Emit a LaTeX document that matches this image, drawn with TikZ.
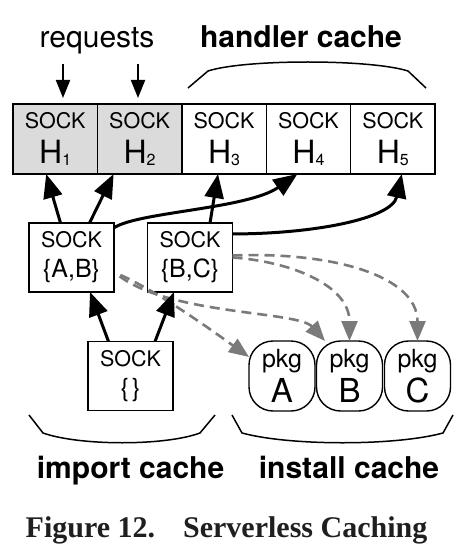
\documentclass[tikz,border=0pt]{standalone}
\usepackage{fontspec}
\setmainfont{TeX Gyre Heros}
\newfontfamily\capfont{Liberation Serif}
\usepackage{tikz}
\usetikzlibrary{positioning, calc, arrows.meta}

\definecolor{sockgray}{gray}{0.86}
\definecolor{dashgray}{HTML}{7A7A7A}

\newcommand{\hname}[1]{\fontsize{32}{35}\selectfont H\raisebox{-2.5pt}{\fontsize{16}{16}\selectfont #1}}
\newcommand{\pkgname}[1]{\fontsize{33}{35}\selectfont #1}
\newcommand{\depname}[1]{\fontsize{25}{30}\selectfont #1}

\tikzset{
  sockbox/.style={draw, line width=1.4pt, minimum width=84.4pt, minimum height=70pt,
    inner sep=0pt, outer sep=0pt, align=center, font=\fontsize{21.5}{35}\selectfont},
  midsock/.style={minimum width=85pt, minimum height=69pt, font=\fontsize{21.5}{30}\selectfont},
  pkgbox/.style={draw, line width=1.4pt, rounded corners=24pt, minimum width=66pt,
    minimum height=70pt, inner sep=0pt, outer sep=0pt, align=center, font=\fontsize{25}{35}\selectfont},
  cachelabel/.style={anchor=base, font=\fontsize{30}{30}\selectfont\bfseries},
  bracestyle/.style={line width=1.5pt},
  reqarr/.style={-{Triangle[length=18pt,width=14pt]}, line width=2pt, shorten >=6pt},
  solidarr/.style={-{Triangle[length=24pt,width=19pt]}, line width=3pt},
  dasharr/.style={-{Triangle[length=20pt,width=16pt]}, dashgray, line width=2.6pt,
    dash pattern=on 10pt off 6pt}
}

\begin{document}
\begin{tikzpicture}[x=1pt, y=-1pt]
    \useasboundingbox (0,0) rectangle (458,556);

    % handler cache
    \node[sockbox, fill=sockgray] (h1) at (55.2,139) {SOCK\\\hname{1}};
    \node[sockbox, fill=sockgray, right=0pt of h1] (h2) {SOCK\\\hname{2}};
    \node[sockbox, right=0pt of h2] (h3) {SOCK\\\hname{3}};
    \node[sockbox, right=0pt of h3] (h4) {SOCK\\\hname{4}};
    \node[sockbox, right=0pt of h4] (h5) {SOCK\\\hname{5}};

    % import cache
    \node[sockbox, midsock] (ab) at (71.5,257.5) {SOCK\\\depname{\{A,B\}}};
    \node[sockbox, midsock] (bc) at (190,257.5) {SOCK\\\depname{\{B,C\}}};
    \node[sockbox, midsock] (em) at (130.5,376) {SOCK\\\depname{\{\hspace{3pt}\}}};

    % install cache
    \node[pkgbox] (pa) at (282,376) {pkg\\\pkgname{A}};
    \node[pkgbox] (pb) at (349.5,376) {pkg\\\pkgname{B}};
    \node[pkgbox] (pc) at (417.5,376) {pkg\\\pkgname{C}};

    % requests
    \node[anchor=base, font=\fontsize{30}{30}\selectfont] (req) at (97,48) {requests};
    \coordinate (r1) at (63,64);
    \coordinate (r2) at (138,64);
    \draw[reqarr] (r1) -- (r1 |- h1.north);
    \draw[reqarr] (r2) -- (r2 |- h2.north);

    % labels
    \node[cachelabel] (hc) at (301,48) {handler cache};
    \node[cachelabel] (ic) at (130.5,478) {import cache};
    \node[cachelabel] (nc) at (349,478) {install cache};

    % braces
    \draw[bracestyle] (188,88) -- (208,71) .. controls (245,59) and (370,59) .. (408,71) -- (426,88);
    \draw[bracestyle] (29,415) -- (43,433) .. controls (80,446) and (165,446) .. (200,433) -- (215,415);
    \draw[bracestyle] (232,415) -- (242,433) .. controls (290,446) and (395,446) .. (443,433) -- (453,415);

    % dashed arrows
    \draw[dasharr, shorten <=7pt] (ab.-19) .. controls +(45,20) and +(-35,-25) .. (pa.150);
    \draw[dasharr, shorten <=7pt] (ab.-19) .. controls +(58,43) and +(-27,-30) .. (pb.125);
    \draw[dasharr] (bc.east) .. controls +(58,4) and +(0,-56) .. (pb.north);
    \draw[dasharr] ([yshift=2pt]bc.east) .. controls +(98,-4) and +(0,-66) .. (pc.north);

    % solid arrows
    \draw[solidarr] ([xshift=-11pt]ab.north) -- ([xshift=-9pt]h1.south);
    \draw[solidarr] ([xshift=18pt]ab.north) -- ([xshift=-26pt]h2.south);
    \draw[solidarr] ([xshift=20pt]bc.north) -- ([xshift=-6pt]h3.south);
    \draw[solidarr] (ab.35) .. controls +(25,-16) and +(-50,35) .. ([xshift=-11pt]h4.south);
    \draw[solidarr] (bc.29) .. controls +(80,0) and +(-10,45) .. ([xshift=9pt]h5.south);
    \draw[solidarr] ([xshift=-22pt]em.north) -- ([xshift=18.5pt]ab.south);
    \draw[solidarr] ([xshift=24.5pt]em.north) -- ([xshift=-16pt]bc.south);

    % caption
    \node[anchor=base, font=\capfont\bfseries\fontsize{30}{30}\selectfont, text=black!88] (cap)
        at (226.5,537) {Figure 12.\hspace{28pt}Serverless Caching};
\end{tikzpicture}
\end{document}
